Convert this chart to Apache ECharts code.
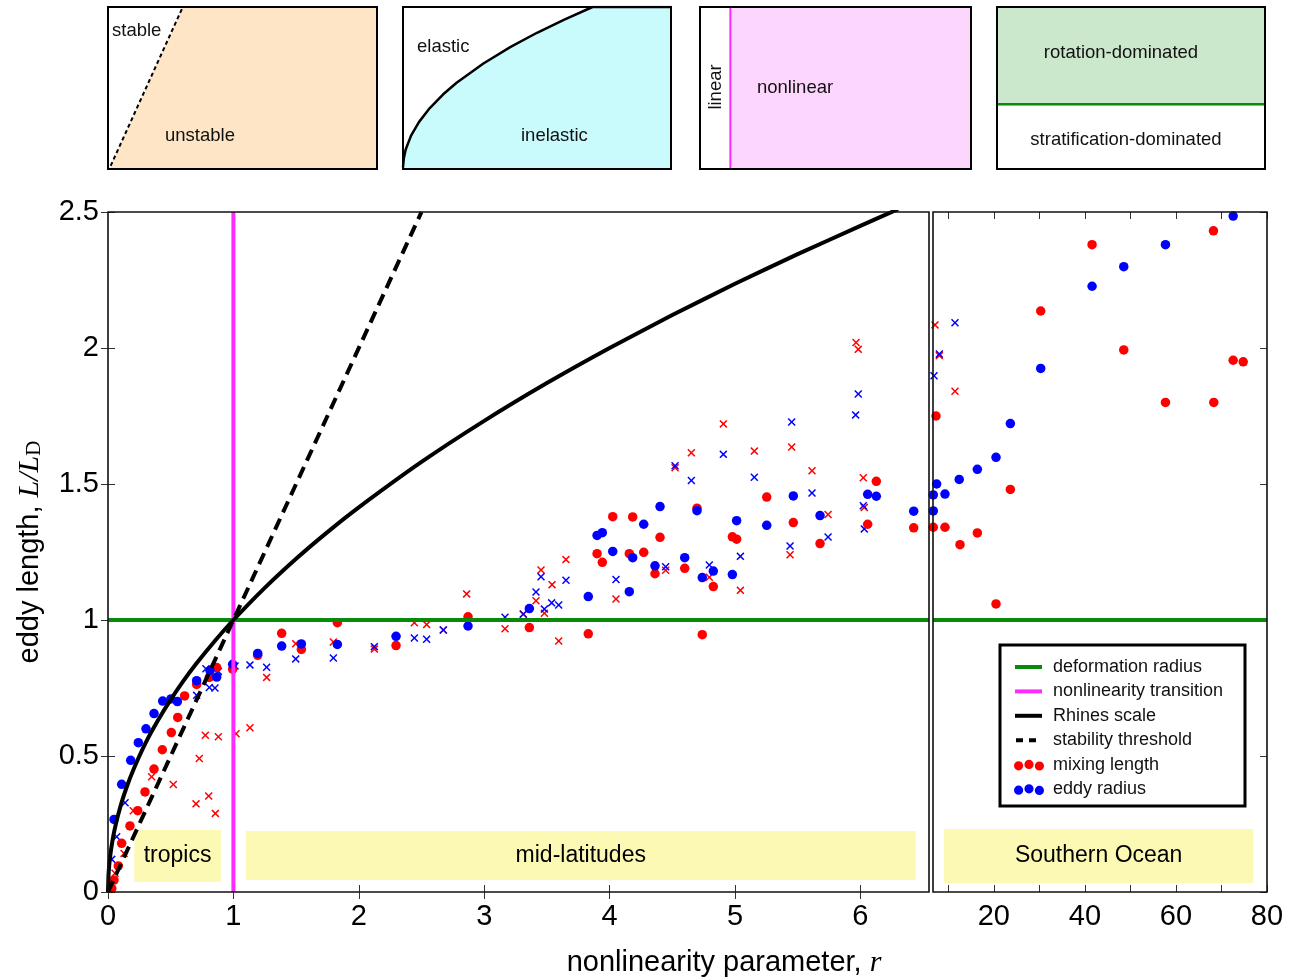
<!DOCTYPE html>
<html>
<head>
<meta charset="utf-8">
<script src="https://cdn.jsdelivr.net/npm/echarts@6/dist/echarts.min.js"></script>
<style>
html,body{margin:0;padding:0;background:#fff;}
#chart{width:1301px;height:980px;}
</style>
</head>
<body>
<div id="chart"></div>
<script>
// ---------- schematic panels (unit coordinates inside each small panel) ----------
const stabilityEdge = [[0.01, 0.02], [0.278, 1]];
const unstableRegion = [[0, 0], [0.01, 0.02], [0.278, 1], [1, 1]];
const elasticX = [0, 0.003, 0.01, 0.03, 0.06, 0.1, 0.15, 0.2, 0.3, 0.4, 0.5, 0.6, 0.707, 1];
const elasticY = [0.01, 0.065, 0.12, 0.206, 0.291, 0.376, 0.461, 0.532, 0.651, 0.752, 0.841, 0.921, 1, 1];
const linearEdge = 0.112;
const rotationEdge = 0.40;

// ---------- main panel: reference curves ----------
const rhinesR = [0, 0.005, 0.02, 0.05, 0.1, 0.15, 0.2, 0.3, 0.4, 0.5, 0.6, 0.7, 0.85, 1, 1.25, 1.5, 1.75, 2, 2.5, 3, 3.5, 4, 4.5, 5, 5.5, 6, 6.3];
const rhinesL = [0, 0.071, 0.141, 0.224, 0.316, 0.387, 0.447, 0.548, 0.632, 0.707, 0.775, 0.837, 0.922, 1, 1.118, 1.225, 1.323, 1.414, 1.581, 1.732, 1.871, 2, 2.121, 2.236, 2.345, 2.449, 2.51];
const stabR = [0, 2.5];
const stabL = [0, 2.5];
const deformationLevel = 1;
const nonlinearityR = 1;

// ---------- region boxes [x0, y0, x1, y1] ----------
const tropicsBox = [0.21, 0.037, 0.90, 0.228];
const midlatBox = [1.10, 0.044, 6.44, 0.224];
const southernBox = [9.05, 0.033, 77, 0.232];

// ---------- left panel data (r, L/L_D) ----------
const mixDotsLeft = [[0.03,0.013],[0.048,0.044],[0.082,0.096],[0.109,0.179],[0.175,0.243],[0.237,0.299],[0.295,0.368],[0.367,0.452],[0.433,0.523],[0.505,0.586],[0.556,0.642],[0.611,0.721],[0.707,0.763],[0.808,0.789],[0.867,0.825],[0.994,0.819],[1.194,0.870],[1.385,0.951],[1.542,0.892],[1.829,0.990],[2.297,0.906],[2.871,1.012],
  [3.36,0.972],[3.83,0.949],[4.739,0.946],[3.9,1.244],[3.942,1.212],[4.025,1.38],[4.157,1.244],[4.184,1.379],[4.272,1.249],[4.362,1.17],[4.402,1.304],[4.599,1.19],[4.697,1.411],[4.827,1.123],[4.979,1.306],[5.013,1.297],[5.253,1.452],[5.465,1.358],[5.678,1.281],[6.058,1.352],[6.127,1.51],[6.425,1.339]];
const mixCrossLeft = [[0.056,0.069],[0.128,0.142],[0.202,0.299],[0.348,0.424],[0.521,0.395],[0.702,0.324],[0.728,0.491],[0.776,0.576],[0.803,0.353],[0.856,0.289],[0.88,0.571],[1.021,0.582],[1.132,0.604],[1.265,0.789],[1.497,0.913],[1.797,0.919],[2.124,0.893],[2.443,0.99],[2.541,0.983],[2.674,0.963],[2.86,1.096],[3.166,0.968],
  [3.312,1.022],[3.413,1.071],[3.453,1.184],[3.48,1.025],[3.541,1.13],[3.594,0.923],[3.652,1.222],[4.051,1.077],[4.447,1.183],[4.522,1.56],[4.652,1.615],[4.795,1.157],[4.907,1.721],[5.043,1.109],[5.154,1.621],[5.439,1.24],[5.452,1.636],[5.614,1.549],[5.742,1.388],[5.965,2.02],[5.983,1.995],[6.023,1.523],[6.031,1.414]];
const eddyDotsLeft = [[0.048,0.267],[0.109,0.396],[0.181,0.484],[0.242,0.549],[0.303,0.600],[0.367,0.656],[0.436,0.702],[0.502,0.710],[0.553,0.700],[0.707,0.777],[0.813,0.814],[0.867,0.790],[0.994,0.837],[1.194,0.877],[1.385,0.904],[1.542,0.912],[1.829,0.910],[2.297,0.940],[2.871,0.978],
  [3.36,1.042],[3.83,1.086],[3.9,1.311],[3.942,1.321],[4.025,1.252],[4.157,1.104],[4.184,1.229],[4.272,1.352],[4.362,1.199],[4.402,1.417],[4.599,1.229],[4.697,1.402],[4.739,1.156],[4.827,1.18],[4.979,1.167],[5.013,1.365],[5.253,1.348],[5.465,1.456],[5.678,1.384],[6.058,1.462],[6.127,1.455],[6.425,1.40]];
const eddyCrossLeft = [[0.03,0.12],[0.069,0.203],[0.136,0.328],[0.707,0.723],[0.781,0.821],[0.808,0.752],[0.853,0.75],[0.88,0.811],[1.013,0.831],[1.132,0.835],[1.265,0.826],[1.497,0.857],[1.797,0.86],[2.124,0.902],[2.443,0.934],[2.541,0.929],[2.674,0.963],[3.166,1.01],
  [3.312,1.021],[3.413,1.103],[3.453,1.159],[3.48,1.04],[3.538,1.063],[3.594,1.055],[3.652,1.146],[4.051,1.149],[4.447,1.196],[4.522,1.567],[4.652,1.513],[4.795,1.202],[4.907,1.609],[5.043,1.234],[5.154,1.525],[5.439,1.272],[5.452,1.728],[5.614,1.467],[5.742,1.305],[5.962,1.754],[5.983,1.831],[6.023,1.42],[6.031,1.335]];

// ---------- right panel data (Southern Ocean) ----------
const mixDotsRight = [[6.7,1.341],[7.3,1.75],[9.27,1.341],[12.57,1.277],[16.38,1.32],[20.48,1.059],[23.63,1.48],[30.3,2.136],[41.58,2.38],[48.54,1.993],[57.7,1.8],[68.31,1.8],[68.24,2.431],[72.57,1.955],[74.77,1.949]];
const mixCrossRight = [[7.08,2.085],[8.03,1.972],[11.47,1.841]];
const eddyDotsRight = [[6.7,1.46],[6.7,1.401],[7.44,1.5],[9.27,1.463],[12.4,1.517],[16.38,1.554],[20.48,1.598],[23.63,1.722],[30.3,1.925],[41.58,2.227],[48.54,2.299],[57.7,2.38],[72.57,2.485]];
const eddyCrossRight = [[6.86,1.898],[8.03,1.978],[11.47,2.093]];

// ---------- tick labels ----------
const leftTicks = [0, 1, 2, 3, 4, 5, 6];
const rightTicks = [10, 20, 30, 40, 50, 60, 70, 80];
const rightLabels = [20, 40, 60, 80];
const LEFT_MAX = 6.547, RIGHT_MIN = 6.64, RIGHT_MAX = 80;

// ---------- styling ----------
const FONT = '"Liberation Sans", Arial, Helvetica, sans-serif';
const SERIF = '"Liberation Serif", "Times New Roman", serif';
const RED = '#ff0000', BLUE = '#0000ff', GREEN = '#078a07', MAGENTA = '#ff2bff';
const CROSS = 'path://M0,1.3L1.3,0L5,3.7L8.7,0L10,1.3L6.3,5L10,8.7L8.7,10L5,6.3L1.3,10L0,8.7L3.7,5Z';
const ICON_LINE = 'path://M0,0M30,12M1,4h27v4h-27z';
const ICON_DASH = 'path://M0,0M30,12M2,4h7v4h-7zM15,4h7v4h-7z';
const ICON_DOTS = 'path://M0,0M30,12M0,7.2a4.6,4.6 0 1,0 9.2,0a4.6,4.6 0 1,0 -9.2,0ZM10.4,5.8a4.6,4.6 0 1,0 9.2,0a4.6,4.6 0 1,0 -9.2,0ZM20.8,7.4a4.6,4.6 0 1,0 9.2,0a4.6,4.6 0 1,0 -9.2,0Z';

const chart = echarts.init(document.getElementById('chart'), null, {renderer: 'canvas'});

const hidden = i => ({type: 'value', gridIndex: i, min: 0, max: 1, show: false, splitLine: {show: false}});
const tickStyle = {inside: true, length: 7, lineStyle: {color: '#333', width: 1}};
const pair = (xs, ys) => xs.map((x, i) => [x, ys[i]]);

function scatter(name, data, idx, color, cross) {
  return {
    type: 'scatter', name, data, xAxisIndex: idx, yAxisIndex: idx,
    symbol: cross ? CROSS : 'circle', symbolSize: cross ? 8 : 9.5,
    itemStyle: {color, opacity: 1}, z: 2, silent: true
  };
}
function line(name, data, xi, yi, lineStyle, extra) {
  return Object.assign({
    type: 'line', name, data, xAxisIndex: xi, yAxisIndex: yi, symbol: 'none',
    lineStyle, itemStyle: {color: lineStyle.color || '#000'}, z: 3, silent: true
  }, extra || {});
}
function box(b, text) {
  return [{coord: [b[0], b[1]], name: text}, {coord: [b[2], b[3]]}];
}
const yellow = {color: '#fcf9b5', opacity: 1};
const boxLabel = {show: true, position: 'inside', color: '#000', fontSize: 23, fontFamily: FONT};

const panelText = (text, x, y, align) => ({
  type: 'text', x, y, z: 10,
  style: {text, font: `18.5px ${FONT}`, fill: '#111', align: align || 'left', textAlign: align || 'left', verticalAlign: 'middle', textVerticalAlign: 'middle'}
});

const option = {
  animation: false,
  backgroundColor: '#fff',
  grid: [
    {left: 108, top: 7, width: 269, height: 162, show: true, borderColor: '#000', borderWidth: 2, z: 5},
    {left: 403, top: 7, width: 268, height: 162, show: true, borderColor: '#000', borderWidth: 2, z: 5},
    {left: 700, top: 7, width: 271, height: 162, show: true, borderColor: '#000', borderWidth: 2, z: 5},
    {left: 997, top: 7, width: 268, height: 162, show: true, borderColor: '#000', borderWidth: 2, z: 5},
    {left: 108, top: 212, width: 821, height: 680, show: true, borderColor: '#111', borderWidth: 1.6, z: 5},
    {left: 933, top: 212, width: 334, height: 680, show: true, borderColor: '#111', borderWidth: 1.6, z: 5}
  ],
  xAxis: [
    hidden(0), hidden(1), hidden(2), hidden(3),
    {type: 'value', gridIndex: 4, min: 0, max: LEFT_MAX, position: 'bottom',
     axisLine: {show: false}, splitLine: {show: false},
     axisTick: Object.assign({customValues: leftTicks}, tickStyle),
     axisLabel: {customValues: leftTicks, fontSize: 29, fontFamily: FONT, color: '#000', margin: 10}},
    {type: 'value', gridIndex: 5, min: RIGHT_MIN, max: RIGHT_MAX, position: 'bottom',
     axisLine: {show: false}, splitLine: {show: false},
     axisTick: Object.assign({customValues: rightTicks}, tickStyle),
     axisLabel: {customValues: rightLabels, fontSize: 29, fontFamily: FONT, color: '#000', margin: 10}},
    {type: 'value', gridIndex: 4, min: 0, max: LEFT_MAX, position: 'top',
     axisLine: {show: false}, splitLine: {show: false}, axisLabel: {show: false},
     axisTick: Object.assign({customValues: leftTicks}, tickStyle)},
    {type: 'value', gridIndex: 5, min: RIGHT_MIN, max: RIGHT_MAX, position: 'top',
     axisLine: {show: false}, splitLine: {show: false}, axisLabel: {show: false},
     axisTick: Object.assign({customValues: rightTicks}, tickStyle)}
  ],
  yAxis: [
    hidden(0), hidden(1), hidden(2), hidden(3),
    {type: 'value', gridIndex: 4, min: 0, max: 2.5, interval: 0.5, position: 'left',
     axisLine: {show: false}, splitLine: {show: false}, axisTick: tickStyle,
     axisLabel: {fontSize: 29, fontFamily: FONT, color: '#000', margin: 9}},
    {type: 'value', gridIndex: 5, min: 0, max: 2.5, interval: 0.5, position: 'right',
     axisLine: {show: false}, splitLine: {show: false}, axisTick: tickStyle, axisLabel: {show: false}},
    {type: 'value', gridIndex: 4, min: 0, max: 2.5, interval: 0.5, position: 'right',
     axisLine: {show: false}, splitLine: {show: false}, axisTick: tickStyle, axisLabel: {show: false}}
  ],
  legend: {
    data: [
      {name: 'deformation radius', icon: ICON_LINE},
      {name: 'nonlinearity transition', icon: ICON_LINE},
      {name: 'Rhines scale', icon: ICON_LINE},
      {name: 'stability threshold', icon: ICON_DASH},
      {name: 'mixing length', icon: ICON_DOTS},
      {name: 'eddy radius', icon: ICON_DOTS}
    ],
    orient: 'vertical', left: 1014, top: 658, padding: 0,
    itemWidth: 30, itemHeight: 12, itemGap: 6.4, selectedMode: false, z: 6,
    textStyle: {fontSize: 18, fontFamily: FONT, color: '#111', padding: [0, 0, 0, 4]}
  },
  series: [
    // --- schematic panel 1: stability
    line('p1area', unstableRegion, 0, 0, {width: 0}, {areaStyle: {color: '#fde5c6', opacity: 1}, z: 1}),
    line('p1edge', stabilityEdge, 0, 0, {color: '#000', width: 2, type: [4, 3]}),
    // --- schematic panel 2: elastic / inelastic
    line('p2curve', pair(elasticX, elasticY), 1, 1, {color: '#000', width: 2.5}, {areaStyle: {color: '#c9fbfd', opacity: 1}}),
    // --- schematic panel 3: linear / nonlinear
    line('p3edge', [[linearEdge, 0], [linearEdge, 1]], 2, 2, {color: MAGENTA, width: 2}, {
      markArea: {silent: true, itemStyle: {color: '#fdd6fd', opacity: 1}, label: {show: false},
        data: [[{coord: [linearEdge, 0]}, {coord: [1, 1]}]]}
    }),
    // --- schematic panel 4: rotation / stratification
    line('p4edge', [[0, rotationEdge], [1, rotationEdge]], 3, 3, {color: GREEN, width: 2.5}, {
      markArea: {silent: true, itemStyle: {color: '#cce8cc', opacity: 1}, label: {show: false},
        data: [[{coord: [0, rotationEdge]}, {coord: [1, 1]}]]}
    }),

    // --- main scatter data
    scatter('mixing length ×', mixCrossLeft, 4, RED, true),
    scatter('eddy radius ×', eddyCrossLeft, 4, BLUE, true),
    scatter('mixing length', mixDotsLeft, 4, RED, false),
    scatter('eddy radius', eddyDotsLeft, 4, BLUE, false),
    scatter('mixing length ×', mixCrossRight, 5, RED, true),
    scatter('eddy radius ×', eddyCrossRight, 5, BLUE, true),
    scatter('mixing length', mixDotsRight, 5, RED, false),
    scatter('eddy radius', eddyDotsRight, 5, BLUE, false),

    // --- reference lines
    line('deformation radius', [[0, deformationLevel], [LEFT_MAX, deformationLevel]], 4, 4, {color: GREEN, width: 4}, {
      markArea: {silent: true, itemStyle: yellow, label: boxLabel,
        data: [box(tropicsBox, 'tropics'), box(midlatBox, 'mid-latitudes')]}
    }),
    line('deformation radius', [[RIGHT_MIN, deformationLevel], [RIGHT_MAX, deformationLevel]], 5, 5, {color: GREEN, width: 4}, {
      markArea: {silent: true, itemStyle: yellow, label: boxLabel,
        data: [box(southernBox, 'Southern Ocean')]}
    }),
    line('nonlinearity transition', [[nonlinearityR, 0], [nonlinearityR, 2.5]], 4, 4, {color: MAGENTA, width: 4}),
    line('Rhines scale', pair(rhinesR, rhinesL), 4, 4, {color: '#000', width: 4}, {smooth: 0.2}),
    line('stability threshold', pair(stabR, stabL), 4, 4, {color: '#000', width: 4, type: [12, 7]})
  ],
  graphic: [
    {type: 'rect', shape: {x: 1000, y: 645, width: 245, height: 161}, style: {fill: '#fff', stroke: '#000', lineWidth: 3}, z: 3, silent: true},
    panelText('stable', 112, 31),
    panelText('unstable', 165, 136),
    panelText('elastic', 417, 47),
    panelText('inelastic', 521, 136),
    {type: 'text', x: 716, y: 87, rotation: Math.PI / 2, z: 10,
     style: {text: 'linear', font: `18.5px ${FONT}`, fill: '#111', align: 'center', textAlign: 'center', verticalAlign: 'middle', textVerticalAlign: 'middle'}},
    panelText('nonlinear', 757, 88),
    panelText('rotation-dominated', 1121, 53, 'center'),
    panelText('stratification-dominated', 1126, 140, 'center'),
    {type: 'text', x: 724, y: 963, z: 10,
     style: {text: '{a|nonlinearity parameter, }{b|r}', align: 'center', textAlign: 'center', verticalAlign: 'middle', textVerticalAlign: 'middle',
       rich: {a: {fontSize: 29, fontFamily: FONT, color: '#111'}, b: {fontSize: 30, fontFamily: SERIF, fontStyle: 'italic', color: '#111'}}}},
    {type: 'text', x: 30, y: 552, rotation: Math.PI / 2, z: 10,
     style: {text: '{a|eddy length, }{b|L/L}{c|D}', align: 'center', textAlign: 'center', verticalAlign: 'middle', textVerticalAlign: 'middle',
       rich: {a: {fontSize: 29, fontFamily: FONT, color: '#111'}, b: {fontSize: 30, fontFamily: SERIF, fontStyle: 'italic', color: '#111'},
              c: {fontSize: 21, fontFamily: SERIF, color: '#111', verticalAlign: 'bottom'}}}}
  ]
};
chart.setOption(option);
</script>
</body>
</html>
